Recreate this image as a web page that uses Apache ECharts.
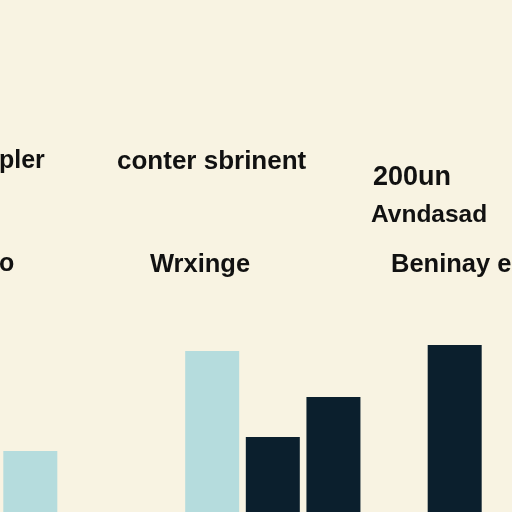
<!DOCTYPE html>
<html>
<head>
<meta charset="utf-8">
<script src="https://cdn.jsdelivr.net/npm/echarts@6/dist/echarts.min.js"></script>
<style>
html,body{margin:0;padding:0;background:#f8f3e2;}
#c{width:512px;height:512px;}
</style>
</head>
<body>
<div id="c"></div>
<script>
var categories = ['A','B','C','D','E','F','G','H'];
var lightValues = [30.5, '-', '-', 80.5, '-', '-', '-', '-'];
var darkValues  = ['-', '-', '-', '-', 37.5, 57.5, '-', 83.5];
var labelTexts = ['pler', 'conter sbrinent', '200un', 'Avndasad', 'o', 'Wrxinge', 'Beninay e'];

var FONT = '"Liberation Sans", Arial, sans-serif';
function txt(s, left, top, size) {
  return {type:'text', left:left, top:top,
    style:{text:s, fill:'#111111', font:'bold ' + size + 'px ' + FONT}};
}

var chart = echarts.init(document.getElementById('c'));
chart.setOption({
  backgroundColor:'#f8f3e2',
  animation:false,
  grid:{left:0, right:27, top:312, bottom:0},
  xAxis:{type:'category', data:categories, show:false},
  yAxis:{type:'value', min:0, max:100, show:false},
  series:[
    {type:'bar', stack:'s', data:lightValues, barWidth:54,
     itemStyle:{color:'#b5dcdd'}},
    {type:'bar', stack:'s', data:darkValues, barWidth:54,
     itemStyle:{color:'#0b1f2d'}}
  ],
  graphic:[
    txt(labelTexts[0], -1, 149, 25),
    txt(labelTexts[1], 117, 149, 26),
    txt(labelTexts[2], 373, 164, 27),
    txt(labelTexts[3], 371, 203, 24.5),
    txt(labelTexts[4], -1, 252, 25),
    txt(labelTexts[5], 150, 252, 25.5),
    txt(labelTexts[6], 391, 252, 25.5)
  ]
});
</script>
</body>
</html>
